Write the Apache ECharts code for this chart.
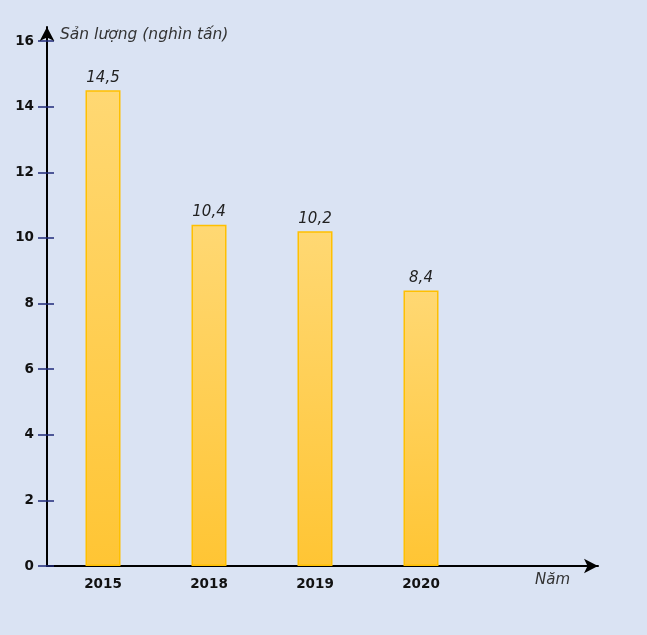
<!DOCTYPE html>
<html>
<head>
<meta charset="utf-8">
<script src="https://cdn.jsdelivr.net/npm/echarts@6/dist/echarts.min.js"></script>
<style>
html,body{margin:0;padding:0;background:#DAE3F3;}
#c{width:647px;height:635px;}
</style>
</head>
<body>
<div id="c"></div>
<script>
var categories = ['2015', '2018', '2019', '2020', ''];
var values = [14.5, 10.4, 10.2, 8.4, null];
var yTicks = { min: 0, max: 16, interval: 2 };
var yTitle = 'Sản lượng (nghìn tấn)';
var xTitle = 'Năm';

var chart = echarts.init(document.getElementById('c'));
var font = 'DejaVu Sans, Verdana, sans-serif';
chart.setOption({
  backgroundColor: '#DAE3F3',
  animation: false,
  title: {
    text: xTitle, left: 535, top: 573, padding: 0,
    textStyle: { fontFamily: font, fontStyle: 'italic', fontWeight: 'normal', fontSize: 15, color: '#333' }
  },
  grid: [
    { left: 47, top: 27, right: 49, bottom: 69 },
    { left: 50, top: 41, right: 67, bottom: 69 }
  ],
  xAxis: [
    { type: 'value', gridIndex: 0, min: 0, max: 1,
      axisLine: { show: true, symbol: ['none', 'arrow'], symbolSize: [11, 14], lineStyle: { color: '#000', width: 2 } },
      axisTick: { show: false }, axisLabel: { show: false }, splitLine: { show: false } },
    { type: 'category', gridIndex: 1, data: categories,
      axisLine: { show: false }, axisTick: { show: false }, splitLine: { show: false },
      axisLabel: { margin: 11, fontFamily: font, fontWeight: 'bold', fontSize: 13.5, color: '#111' } }
  ],
  yAxis: [
    { type: 'value', gridIndex: 0, min: 0, max: 1,
      name: yTitle, nameLocation: 'end', nameGap: -8,
      nameTextStyle: { fontFamily: font, fontStyle: 'italic', fontSize: 15.5, color: '#333', align: 'left', verticalAlign: 'middle', padding: [0, 0, 0, 13] },
      axisLine: { show: true, symbol: ['none', 'arrow'], symbolSize: [11, 14], lineStyle: { color: '#000', width: 2 } },
      axisTick: { show: false }, axisLabel: { show: false }, splitLine: { show: false } },
    { type: 'value', gridIndex: 1, position: 'left', offset: 3, min: yTicks.min, max: yTicks.max, interval: yTicks.interval,
      axisLine: { show: false }, splitLine: { show: false },
      axisTick: { show: true, length: 9, lineStyle: { color: '#1F2A7A', width: 1.5 } },
      axisLabel: { margin: 13, fontFamily: font, fontWeight: 'bold', fontSize: 13.5, color: '#111' } },
    { type: 'value', gridIndex: 1, position: 'left', offset: 3, min: yTicks.min, max: yTicks.max, interval: yTicks.interval,
      axisLine: { show: false }, splitLine: { show: false }, axisLabel: { show: false },
      axisTick: { show: true, inside: true, length: 7, lineStyle: { color: '#1F2A7A', width: 1.5 } } }
  ],
  series: [{
    type: 'bar', xAxisIndex: 1, yAxisIndex: 1, data: values, barWidth: 35,
    itemStyle: {
      color: new echarts.graphic.LinearGradient(0, 0, 0, 1, [
        { offset: 0, color: '#FFD873' }, { offset: 1, color: '#FFC534' }
      ]),
      borderColor: '#FFC000', borderWidth: 1.5
    },
    label: {
      show: true, position: 'top', distance: 5,
      fontFamily: font, fontStyle: 'italic', fontSize: 15, color: '#222',
      formatter: function (p) { return p.value == null ? '' : String(p.value).replace('.', ','); }
    }
  }]
});
</script>
</body>
</html>
